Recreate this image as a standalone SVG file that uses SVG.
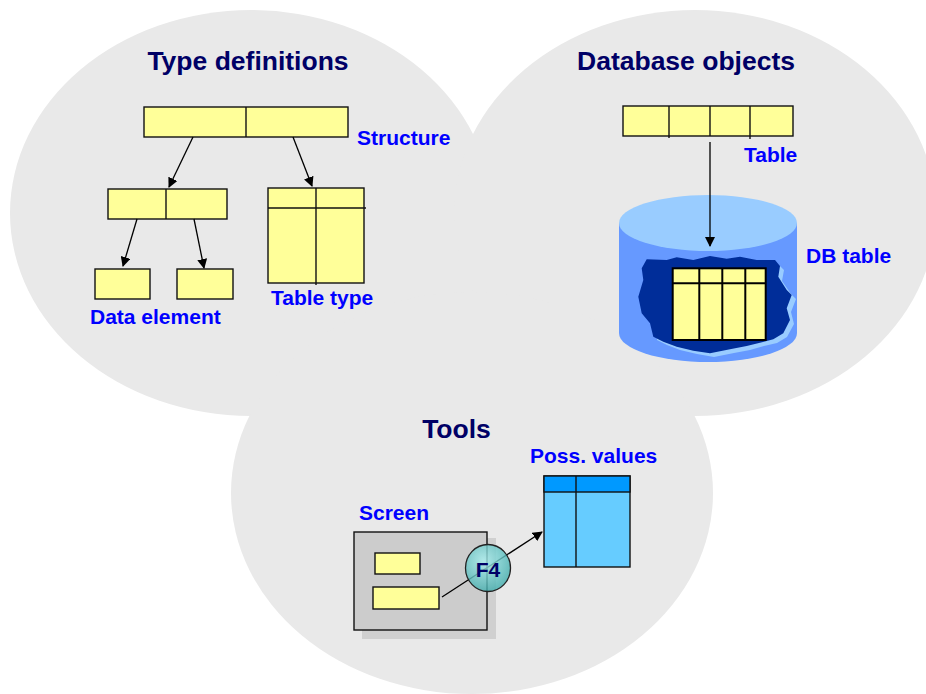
<svg xmlns="http://www.w3.org/2000/svg" width="926" height="694" viewBox="0 0 926 694">
<defs>
<style>
.bg{fill:#e9e9e9;stroke:none}
.title{font-family:"Liberation Sans",Arial,sans-serif;font-weight:bold;font-size:26.5px;fill:#000066}
.lbl{font-family:"Liberation Sans",Arial,sans-serif;font-weight:bold;font-size:21px;fill:#0000ff}
.y{fill:#ffff99;stroke:#111;stroke-width:1.4}
.ln{stroke:#111;stroke-width:1.4;fill:none}
.arr{stroke:#000;stroke-width:1.3;fill:none;marker-end:url(#ah)}
</style>
<marker id="ah" viewBox="0 0 10 10" refX="9" refY="5" markerWidth="10" markerHeight="10" markerUnits="userSpaceOnUse" orient="auto">
<path d="M0,0 L10,5 L0,10 Z" fill="#000"/>
</marker>
<radialGradient id="f4g" cx="0.4" cy="0.35" r="0.7">
<stop offset="0" stop-color="#aaf0f0"/>
<stop offset="1" stop-color="#3aa8a8"/>
</radialGradient>
</defs>
<rect width="926" height="694" fill="#fff"/>
<g id="circles">
<ellipse class="bg" cx="251" cy="213" rx="241" ry="203"/>
<ellipse class="bg" cx="695" cy="213" rx="241" ry="203"/>
<ellipse class="bg" cx="472" cy="493" rx="241" ry="201"/>
</g>
<g id="titles">
<text class="title" x="248" y="70" text-anchor="middle">Type definitions</text>
<text class="title" x="686" y="70" text-anchor="middle">Database objects</text>
<text class="title" x="456.5" y="438" text-anchor="middle">Tools</text>
</g>
<g id="structure">
<rect class="y" x="144" y="107" width="204" height="30"/>
<line class="ln" x1="246" y1="107" x2="246" y2="137"/>
<text class="lbl" x="357" y="145">Structure</text>
</g>
<g id="substructure">
<rect class="y" x="108" y="189" width="119" height="30"/>
<line class="ln" x1="166" y1="189" x2="166" y2="219"/>
</g>
<g id="data-element">
<rect class="y" x="95" y="269" width="55" height="30"/>
<rect class="y" x="177" y="269" width="56" height="30"/>
<text class="lbl" x="90" y="324">Data element</text>
</g>
<g id="table-type">
<rect class="y" x="268" y="188" width="96" height="95"/>
<line class="ln" x1="268" y1="208" x2="366" y2="208"/>
<line class="ln" x1="316" y1="188" x2="316" y2="285"/>
<text class="lbl" x="271" y="305">Table type</text>
</g>
<g id="table">
<rect class="y" x="623" y="106" width="170" height="30"/>
<line class="ln" x1="669" y1="106" x2="669" y2="138"/>
<line class="ln" x1="710" y1="106" x2="710" y2="136"/>
<line class="ln" x1="750" y1="106" x2="750" y2="139"/>
<text class="lbl" x="744" y="162">Table</text>
</g>
<g id="db-table">
<path d="M619,223 L619,333 A89,29 0 0 0 797,333 L797,223 Z" fill="#6699ff"/>
<ellipse cx="708" cy="223" rx="89" ry="28" fill="#99ccff"/>
<polygon fill="#99ccff" points="650,263 670,264 680,261 697,264 713,260 730,263 743,261 760,264 778,264 784,270 782,281 791,294 796,299 791,312 794,324 787,337 777,343 764,346 750,350 734,353 714,357 697,354 680,350 667,345 657,340"/>
<polygon fill="#002d99" points="646.7,259.3 666.7,260 676.7,257.3 693.3,260 710,256 726.7,258.7 740,256.7 756.7,260 775,260 780,266 778.3,276.7 786.7,290 791.7,295 786.7,308.3 790,320 783.3,333.3 773.3,339.3 760,342.7 746.7,346 730,349.3 710,353.3 693.3,350.7 676.7,346.7 663.3,341.7 653.3,336.7 650,323.3 641.7,313.3 638.3,296.7 643.3,280 641.7,268.3"/>
<rect x="672.7" y="268.3" width="93" height="71.7" fill="#ffff99" stroke="#000" stroke-width="2"/>
<line x1="672.7" y1="283.3" x2="765.7" y2="283.3" stroke="#000" stroke-width="2"/>
<line x1="699.3" y1="268.3" x2="699.3" y2="340" stroke="#000" stroke-width="2"/>
<line x1="722.3" y1="268.3" x2="722.3" y2="340" stroke="#000" stroke-width="2"/>
<line x1="745.3" y1="268.3" x2="745.3" y2="340" stroke="#000" stroke-width="2"/>
<text class="lbl" x="806" y="263">DB table</text>
</g>
<g id="poss-values">
<rect x="544" y="476" width="86" height="91" fill="#66ccff" stroke="#111" stroke-width="1.4"/>
<rect x="544" y="476" width="86" height="16" fill="#0099ff" stroke="#111" stroke-width="1.4"/>
<line class="ln" x1="576" y1="476" x2="576" y2="567"/>
<text class="lbl" x="530" y="463">Poss. values</text>
</g>
<g id="screen">
<rect x="362" y="538" width="134" height="101" fill="#d0d0d0"/>
<rect x="354" y="532" width="133" height="98" fill="#cccccc" stroke="#111" stroke-width="1.4"/>
<rect class="y" x="375" y="553" width="45" height="21"/>
<rect class="y" x="373" y="587" width="66" height="22"/>
<text class="lbl" x="359" y="520">Screen</text>
</g>
<g id="connectors">
<line class="arr" x1="193" y1="137" x2="169" y2="187"/>
<line class="arr" x1="293" y1="137" x2="312" y2="186"/>
<line class="arr" x1="137" y1="219" x2="123" y2="266"/>
<line class="arr" x1="194" y1="219" x2="204" y2="268"/>
<line class="arr" x1="710" y1="142" x2="710" y2="246"/>
<line class="arr" x1="442" y1="597" x2="542" y2="532"/>
</g>
<g id="f4">
<ellipse cx="488" cy="568" rx="22.5" ry="23.5" fill="url(#f4g)" fill-opacity="0.8" stroke="#222" stroke-width="1.3"/>
<text x="488" y="577" text-anchor="middle" font-family="Liberation Sans, Arial, sans-serif" font-weight="bold" font-size="21px" fill="#000066">F4</text>
</g>
</svg>
